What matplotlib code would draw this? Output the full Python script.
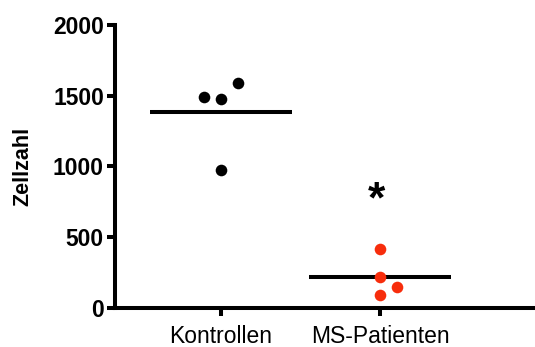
import numpy as np
import matplotlib.pyplot as plt

plt.rcParams['font.family'] = ['Liberation Sans', 'DejaVu Sans']

# data
groups = ["Kontrollen", "MS-Patienten"]
kontrollen = [1493, 1477, 1588, 975]
kontrollen_x = [-0.107, 0.0, 0.109, 0.0]
ms_patienten = [417, 221, 90, 150]
ms_x = [0.0, 0.0, 0.0, 0.107]
means = [np.mean(kontrollen), np.mean(ms_patienten)]
yticks = [0, 500, 1000, 1500, 2000]

fig = plt.figure(figsize=(5.35, 3.47), dpi=100)
ax = fig.add_axes([0.215, 0.1124, 0.785, 0.8156])

ax.scatter(kontrollen_x, kontrollen, s=70, color='black', zorder=3, linewidths=0)
ax.scatter(1 + np.array(ms_x), ms_patienten, s=70, color='#f72d0c', zorder=3, linewidths=0)

# mean lines
for i, m in enumerate(means):
    ax.plot([i - 0.446, i + 0.446], [m, m], color='black', lw=2.9, solid_capstyle='butt', zorder=2)

# significance marker
ax.text(0.98, 610, "*", ha='center', va='bottom', fontsize=32, fontweight='bold')

ax.set_xlim(-0.663, 1.973)
ax.set_ylim(0, 2000)
ax.set_xticks([0, 1])
ax.set_xticklabels(groups, fontsize=16.5)
ax.set_yticks(yticks)
ax.set_yticklabels([str(v) for v in yticks], fontsize=16.5, fontweight='bold')
ax.set_ylabel("Zellzahl", fontsize=15.5, fontweight='bold', labelpad=14)

for side in ['top', 'right']:
    ax.spines[side].set_visible(False)
for side in ['left', 'bottom']:
    ax.spines[side].set_linewidth(2.9)
ax.tick_params(axis='y', width=2.9, length=6, pad=2)
ax.tick_params(axis='x', width=2.9, length=6, pad=6)

fig.savefig("out.png", dpi=100)
